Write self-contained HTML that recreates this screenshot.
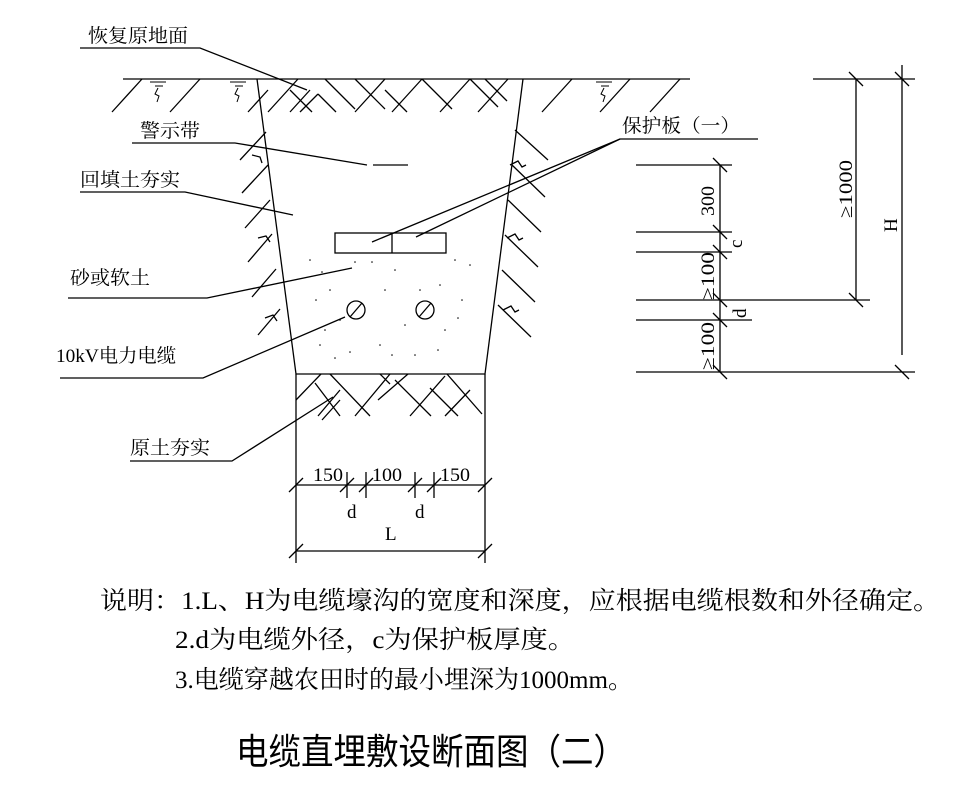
<!DOCTYPE html>
<html><head><meta charset="utf-8"><style>html,body{margin:0;padding:0;background:#fff}svg{display:block}</style></head><body>
<svg width="976" height="794" viewBox="0 0 976 794" xmlns="http://www.w3.org/2000/svg" font-family="'Liberation Serif','Noto Serif CJK SC',serif">
<g stroke="#000" stroke-width="1.3" fill="none">
<line x1="123" y1="79" x2="690" y2="79"/>
<polyline points="257,79 296,374 485,374 523,79"/>
<line x1="296" y1="374" x2="296" y2="563"/>
<line x1="485" y1="374" x2="485" y2="563"/>
<line x1="112" y1="112" x2="142" y2="79"/><line x1="170" y1="112" x2="200" y2="79"/>
<line x1="542" y1="112" x2="572" y2="79"/><line x1="600" y1="112" x2="630" y2="79"/><line x1="650" y1="112" x2="680" y2="79"/>
<g stroke-width="1">
<path d="M150 82h16M155 86h8M158 88l-3 6 4 2-2 6"/><path d="M230 82h16M235 86h8M238 88l-3 6 4 2-2 6"/><path d="M596 82h16M601 86h8M604 88l-3 6 4 2-2 6"/>
</g>
<path d="M268 112l30-33M290 90l22 22M300 112l18-18M318 94l18 18"/>
<path d="M325 79l30 30M355 112l30-33M385 90l22 22M355 79l30 30"/>
<path d="M392 112l30-33M422 79l30 30M440 112l30-33M470 79l28 28M478 112l30-33M485 79l22 22"/>
<path d="M290 112l20-22M248 112l20-22"/>
<path d="M240 160l26-28M242 193l26-28M245 228l25-28M248 262l24-28M252 297l24-28M258 335l22-26"/>
<path d="M252 155l8 2 2 6M258 238l8-2 4 6M265 318l8-3 4 6"/>
<path d="M515 130l33 30M512 165l33 32M508 200l33 32M505 235l33 32M502 270l33 32M498 305l33 32"/>
<path d="M510 165l8-4 4 6 4-2M507 238l8-4 4 6 4-2M503 310l8-4 4 6 4-2"/>
<path d="M296 400l25-26M315 383l25 33M318 416l22-26M330 374l40 42M355 416l35-42M380 374l10 10M378 400l30-26M395 380l36 36M410 416l35-40M430 388l28 28M447 374l35 40M445 416l25-26M340 400l-18 20"/>
<rect x="335" y="233" width="111" height="20"/><line x1="392" y1="233" x2="392" y2="253"/>
<circle cx="356" cy="310" r="9"/><line x1="350" y1="317" x2="362" y2="303"/>
<circle cx="425" cy="310" r="9"/><line x1="419" y1="317" x2="431" y2="303"/>
<line x1="373" y1="165" x2="408" y2="165"/>
<polyline points="80,48 200,48 307,90"/>
<polyline points="132,143 235,143 367,165"/>
<polyline points="80,192 185,192 293,215"/>
<polyline points="68,298 207,298 352,268"/>
<polyline points="60,378 203,378 345,317"/>
<polyline points="130,461 232,461 333,397"/>
<polyline points="758,139 620,139 372,242"/>
<line x1="620" y1="139" x2="416" y2="237"/>
<line x1="296" y1="485" x2="485" y2="485"/>
<line x1="296" y1="551" x2="485" y2="551"/>
<path d="M289 492l14-14M340 492l14-14M359 492l14-14M408 492l14-14M427 492l14-14M478 492l14-14M289 558l14-14M478 558l14-14"/>
<path d="M347 472v26M366 472v26M415 472v26M434 472v26"/>
<line x1="720" y1="165" x2="720" y2="372"/>
<line x1="636" y1="165" x2="732" y2="165"/>
<line x1="636" y1="232" x2="732" y2="232"/>
<line x1="636" y1="252" x2="732" y2="252"/>
<line x1="636" y1="300" x2="870" y2="300"/>
<line x1="636" y1="320" x2="752" y2="320"/>
<line x1="636" y1="372" x2="915" y2="372"/>
<line x1="856" y1="79" x2="856" y2="300"/>
<line x1="813" y1="79" x2="870" y2="79"/>
<line x1="870" y1="79" x2="915" y2="79"/>
<line x1="902" y1="65" x2="902" y2="355"/>
<path d="M713 158l14 14M713 225l14 14M713 245l14 14M713 293l14 14M713 313l14 14M713 365l14 14M849 72l14 14M849 293l14 14M895 72l14 14M895 365l14 14"/>
</g>
<g fill="#000">
<circle cx="310" cy="260" r="0.8"/><circle cx="322" cy="272" r="0.8"/><circle cx="330" cy="290" r="0.8"/><circle cx="316" cy="300" r="0.8"/><circle cx="340" cy="320" r="0.8"/><circle cx="325" cy="330" r="0.8"/><circle cx="320" cy="345" r="0.8"/><circle cx="335" cy="358" r="0.8"/><circle cx="350" cy="352" r="0.8"/><circle cx="380" cy="345" r="0.8"/><circle cx="392" cy="355" r="0.8"/><circle cx="405" cy="325" r="0.8"/><circle cx="420" cy="290" r="0.8"/><circle cx="440" cy="285" r="0.8"/><circle cx="455" cy="260" r="0.8"/><circle cx="462" cy="300" r="0.8"/><circle cx="445" cy="330" r="0.8"/><circle cx="438" cy="350" r="0.8"/><circle cx="415" cy="355" r="0.8"/><circle cx="395" cy="270" r="0.8"/><circle cx="385" cy="290" r="0.8"/><circle cx="372" cy="262" r="0.8"/><circle cx="355" cy="262" r="0.8"/><circle cx="470" cy="265" r="0.8"/><circle cx="458" cy="318" r="0.8"/>
</g>
<g font-size="19" fill="#000">
<text x="88" y="42" textLength="100" lengthAdjust="spacingAndGlyphs">恢复原地面</text>
<text x="140" y="137" textLength="60" lengthAdjust="spacingAndGlyphs">警示带</text>
<text x="80" y="186" textLength="100" lengthAdjust="spacingAndGlyphs">回填土夯实</text>
<text x="70" y="284" textLength="80" lengthAdjust="spacingAndGlyphs">砂或软土</text>
<text x="56" y="362" textLength="120" lengthAdjust="spacingAndGlyphs">10kV电力电缆</text>
<text x="130" y="454" textLength="80" lengthAdjust="spacingAndGlyphs">原土夯实</text>
<text x="622" y="132" textLength="118" lengthAdjust="spacingAndGlyphs">保护板（一）</text>
<text x="313" y="481" textLength="30" lengthAdjust="spacingAndGlyphs">150</text>
<text x="372" y="481" textLength="30" lengthAdjust="spacingAndGlyphs">100</text>
<text x="440" y="481" textLength="30" lengthAdjust="spacingAndGlyphs">150</text>
<text x="347" y="518">d</text>
<text x="415" y="518">d</text>
<text x="385" y="540">L</text>
<text transform="translate(714,216) rotate(-90)" textLength="30" lengthAdjust="spacingAndGlyphs">300</text>
<text transform="translate(742,248) rotate(-90)">c</text>
<text transform="translate(714,300) rotate(-90)" textLength="48" lengthAdjust="spacingAndGlyphs">≥100</text>
<text transform="translate(746,318) rotate(-90)">d</text>
<text transform="translate(714,370) rotate(-90)" textLength="48" lengthAdjust="spacingAndGlyphs">≥100</text>
<text transform="translate(852,218) rotate(-90)" textLength="58" lengthAdjust="spacingAndGlyphs">≥1000</text>
<text transform="translate(897,232) rotate(-90)">H</text>
</g>
<g font-size="25" fill="#000">
<text x="100" y="609" textLength="840" lengthAdjust="spacingAndGlyphs">说明：1.L、H为电缆壕沟的宽度和深度，应根据电缆根数和外径确定。</text>
<text x="175" y="648" textLength="400" lengthAdjust="spacingAndGlyphs">2.d为电缆外径，c为保护板厚度。</text>
<text x="175" y="688" textLength="458" lengthAdjust="spacingAndGlyphs">3.电缆穿越农田时的最小埋深为1000mm。</text>
</g>
<text x="236" y="764" font-size="36" font-family="'Liberation Sans','Noto Sans CJK SC',sans-serif" textLength="390" lengthAdjust="spacingAndGlyphs">电缆直埋敷设断面图（二）</text>
</svg>
</body></html>
